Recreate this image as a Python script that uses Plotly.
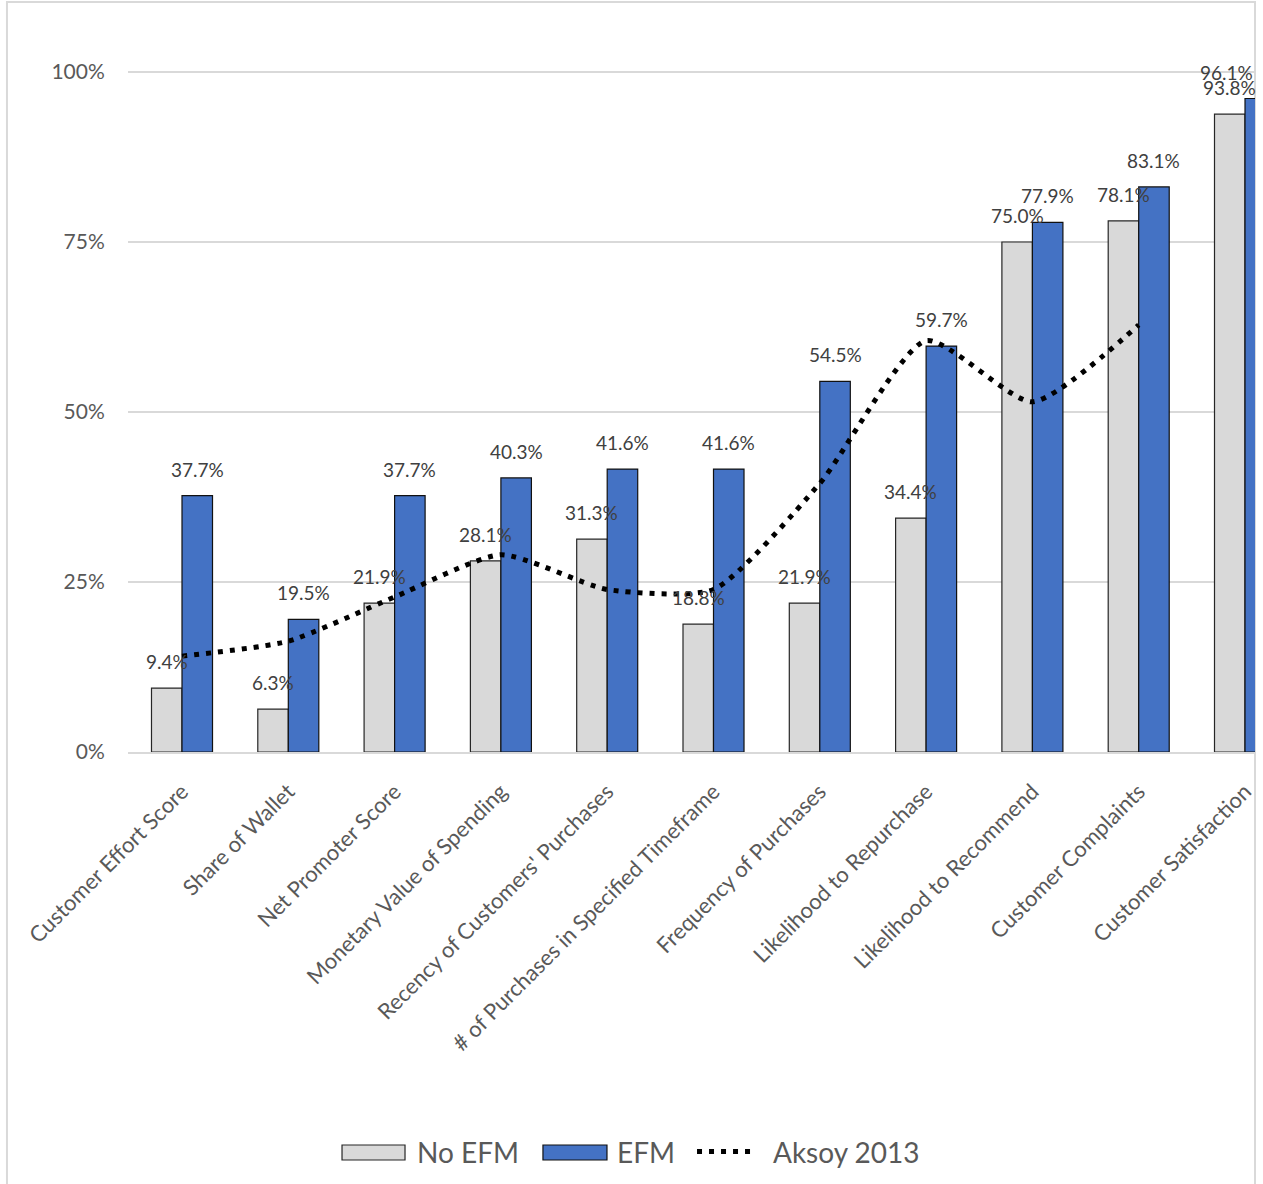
import plotly.graph_objects as go

# Measures compared across the two groups
categories = [
    "Customer Effort Score",
    "Share of Wallet",
    "Net Promoter Score",
    "Monetary Value of Spending",
    "Recency of Customers' Purchases",
    "# of Purchases in Specified Timeframe",
    "Frequency of Purchases",
    "Likelihood to Repurchase",
    "Likelihood to Recommend",
    "Customer Complaints",
    "Customer Satisfaction",
]

# Share of firms using each measure (percent)
no_efm = [9.4, 6.3, 21.9, 28.1, 31.3, 18.8, 21.9, 34.4, 75.0, 78.1, 93.8]
efm = [37.7, 19.5, 37.7, 40.3, 41.6, 41.6, 54.5, 59.7, 77.9, 83.1, 96.1]
aksoy_2013 = [14.1, 16.3, 22.8, 29.0, 23.9, 23.9, 39.5, 60.5, 51.5, 62.8, None]

y_ticks = [0, 25, 50, 75, 100]
y_tick_labels = ["0%", "25%", "50%", "75%", "100%"]

FONT = "Lato, 'Open Sans', sans-serif"
GRAY = "#d9d9d9"
BLUE = "#4472c4"
AXIS_TEXT = "#595959"
LABEL_TEXT = "#404040"

x_idx = list(range(len(categories)))
x_range = [-0.508, 10.094]
bargap = 0.426
bar_w = (1 - bargap) / 2

fig = go.Figure()

fig.add_trace(go.Bar(
    x=x_idx, y=[v / 100 for v in no_efm], name="No EFM",
    marker=dict(color=GRAY, line=dict(color="#262626", width=1.2)),
))
fig.add_trace(go.Bar(
    x=x_idx, y=[v / 100 for v in efm], name="EFM",
    marker=dict(color=BLUE, line=dict(color="#111111", width=1.2)),
))
fig.add_trace(go.Scatter(
    x=x_idx, y=[None if v is None else v / 100 for v in aksoy_2013],
    name="Aksoy 2013", mode="lines",
    line=dict(color="black", width=5, dash="5px,7px", shape="spline", smoothing=0.6),
))

# Value labels above each bar
annotations = []
for series, offset in ((no_efm, -bar_w / 2), (efm, bar_w / 2)):
    for i, v in enumerate(series):
        x = i + offset
        xanchor = "center"
        # keep labels inside the chart frame
        if x + 0.15 > x_range[1]:
            x = x_range[1]
            xanchor = "right"
        annotations.append(dict(
            x=x, y=v / 100, xref="x", yref="y", text=f"{v:.1f}%",
            showarrow=False, xanchor=xanchor, yanchor="bottom", yshift=13,
            font=dict(family=FONT, size=19, color=LABEL_TEXT),
        ))

# Legend drawn below the axis labels
leg_y = -0.560
legend_items = [
    ("No EFM", 0.2547),
    ("EFM", 0.4321),
    ("Aksoy 2013", 0.5705),
]
for text, xl in legend_items:
    annotations.append(dict(
        x=xl, y=leg_y, xref="paper", yref="paper", text=text, showarrow=False,
        xanchor="left", yanchor="middle",
        font=dict(family=FONT, size=28, color=AXIS_TEXT),
    ))

shapes = [
    # outer chart frame
    dict(type="rect", xref="paper", yref="paper", x0=-0.1074, x1=1.0, y0=-0.75, y1=1.0504,
         line=dict(color=GRAY, width=2), fillcolor="rgba(0,0,0,0)", layer="below"),
    # legend swatches
    dict(type="rect", xref="paper", yref="paper", x0=0.1899, x1=0.2458, y0=-0.5714, y1=-0.5504,
         fillcolor=GRAY, line=dict(color="#262626", width=1.2)),
    dict(type="rect", xref="paper", yref="paper", x0=0.3682, x1=0.4250, y0=-0.5714, y1=-0.5504,
         fillcolor=BLUE, line=dict(color="#111111", width=1.2)),
    dict(type="line", xref="paper", yref="paper", x0=0.5049, x1=0.5540, y0=-0.5595, y1=-0.5595,
         line=dict(color="black", width=5, dash="5px,7px")),
]

fig.update_layout(
    width=1263, height=1184,
    margin=dict(l=128, r=8, t=38, b=432),
    paper_bgcolor="white", plot_bgcolor="white",
    barmode="group", bargap=bargap, bargroupgap=0,
    showlegend=False,
    annotations=annotations, shapes=shapes,
    font=dict(family=FONT, color=AXIS_TEXT),
)
fig.update_xaxes(
    range=x_range, tickmode="array", tickvals=x_idx, ticktext=categories,
    tickangle=-45, tickfont=dict(family=FONT, size=22, color=AXIS_TEXT),
    showline=True, linecolor=GRAY, linewidth=2, showgrid=False, zeroline=False,
    ticks="outside", ticklen=16, tickcolor="rgba(0,0,0,0)",
)
fig.update_yaxes(
    range=[0, 1.05], tickmode="array", tickvals=[t / 100 for t in y_ticks], ticktext=y_tick_labels,
    tickfont=dict(family=FONT, size=21, color=AXIS_TEXT),
    showgrid=True, gridcolor=GRAY, gridwidth=1.5, zeroline=False, showline=False,
    ticks="outside", ticklen=18, tickcolor="rgba(0,0,0,0)",
)

fig.write_html("out.html")
